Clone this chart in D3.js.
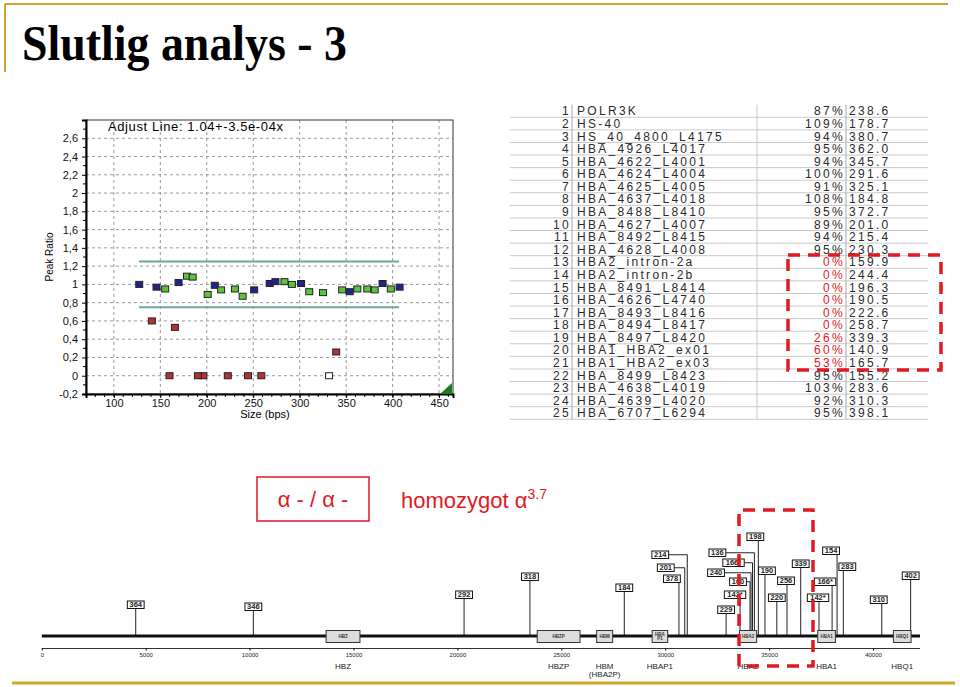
<!DOCTYPE html>
<meta charset="utf-8">
<script src="https://d3js.org/d3.v7.min.js"></script>
<style>
  body { margin: 0; background: #fff; }
  text { font-family: "Liberation Sans", Arial, sans-serif; }
</style>
<body>
<div id="slide"></div>
<script>
// ---- table / probe data (MLPA result) ----
var probeNames = ["POLR3K", "HS-40", "HS_40_4800_L4175", "HBA_4926_L4017", "HBA_4622_L4001",
  "HBA_4624_L4004", "HBA_4625_L4005", "HBA_4637_L4018", "HBA_8488_L8410", "HBA_4627_L4007",
  "HBA_8492_L8415", "HBA_4628_L4008", "HBA2_intron-2a", "HBA2_intron-2b", "HBA_8491_L8414",
  "HBA_4626_L4740", "HBA_8493_L8416", "HBA_8494_L8417", "HBA_8497_L8420", "HBA1_HBA2_ex01",
  "HBA1_HBA2_ex03", "HBA_8499_L8423", "HBA_4638_L4019", "HBA_4639_L4020", "HBA_6707_L6294"];
var probePct = [87, 109, 94, 95, 94, 100, 91, 108, 95, 89, 94, 95, 0, 0, 0, 0, 0, 0, 26, 60, 53, 95, 103, 92, 95];
var probeSize = [238.6, 178.7, 380.7, 362.0, 345.7, 291.6, 325.1, 184.8, 372.7, 201.0, 215.4, 230.3,
  159.9, 244.4, 196.3, 190.5, 222.6, 258.7, 339.3, 140.9, 165.7, 155.2, 283.6, 310.3, 398.1];

// reference probes (blue) and one unused peak (white)
var refSize = [127.3, 145.9, 169.6, 208.6, 251, 267.7, 273.9, 301.5, 353.8, 389.2, 407.5];
var refRatio = [1.00, 0.97, 1.02, 0.99, 0.94, 1.01, 1.03, 1.01, 0.92, 1.01, 0.97];
var otherSize = [331.6];
var otherRatio = [0];

var xTicks = [100, 150, 200, 250, 300, 350, 400, 450];
var yTicks = [-0.2, 0, 0.2, 0.4, 0.6, 0.8, 1, 1.2, 1.4, 1.6, 1.8, 2, 2.2, 2.4, 2.6];
var limits = [0.75, 1.25];
var limitRange = [127, 407];

// ---- gene map data (bp) ----
var geneNames = ["HBZ", "HBZP", "HBM", "HBAP1", "HBA2", "HBA1", "HBQ1"];
var geneBoxText = ["HBZ", "HBZP", "HBM", "HBA|P1", "HBA2", "HBA1", "HBQ1"];
var geneStart = [13680, 23840, 26700, 29370, 33570, 37340, 40980];
var geneEnd = [15310, 25900, 27470, 30120, 34400, 38190, 41830];
var mapTicks = [0, 5000, 10000, 15000, 20000, 25000, 30000, 35000, 40000];

var mapLabels = ["364", "346", "292", "318", "184", "378", "201", "214", "229", "142*", "160", "240",
  "166*", "136", "198", "190", "220", "256", "339", "142*", "166*", "154", "283", "310", "402"];
var mapPos = [4520, 10180, 20320, 23490, 28030, 30660, 30940, 31060, 32930, 33600, 34080, 34130,
  34200, 34290, 34480, 34800, 35370, 35860, 36520, 37400, 38030, 38270, 38570, 40420, 41810];

// label box placement: [dx from stem, top y]
var labelLayout = [[0, 601], [0, 603], [0, 591], [0, 573], [0, 584], [-7, 575], [-19, 564], [-27, 551],
  [0, 606], [-5, 591], [-12, 578], [-35, 569], [-19, 559], [-37, 549], [-3, 533], [2, 567], [0, 594],
  [-1, 577], [0, 560], [-1, 594], [-7, 578], [-6, 547], [4, 563], [-3, 596], [0, 572]];

var W = 960, H = 687;
var red = "#e01a22", gold = "#d4a52a";

var svg = d3.select("#slide").append("svg")
  .attr("width", W).attr("height", H);

// slide decoration
svg.append("line").attr("x1", 5).attr("x2", 948).attr("y1", 4).attr("y2", 4)
  .attr("stroke", gold).attr("stroke-width", 2);
svg.append("line").attr("x1", 5).attr("x2", 5).attr("y1", 4).attr("y2", 72)
  .attr("stroke", gold).attr("stroke-width", 2);
svg.append("line").attr("x1", 12).attr("x2", 955).attr("y1", 683).attr("y2", 683)
  .attr("stroke", gold).attr("stroke-width", 3);

svg.append("text").attr("x", 22).attr("y", 60)
  .style("font-family", "'Liberation Serif', 'Times New Roman', serif")
  .style("font-size", "50px").style("font-weight", "bold")
  .attr("textLength", 325).attr("lengthAdjust", "spacingAndGlyphs")
  .text("Slutlig analys - 3");

// ================= scatter plot =================
var x = d3.scaleLinear().domain([70, 465]).range([86, 453]);
var y = d3.scaleLinear().domain([-0.2, 2.8]).range([394, 120]);
var plot = svg.append("g");

var fmt = function (v) {
  var r = Math.round(v * 10) / 10;
  return Number.isInteger(r) ? String(r) : r.toFixed(1).replace(".", ",");
};

// grid
plot.selectAll(".vg").data(xTicks).enter().append("line")
  .attr("x1", d => x(d)).attr("x2", d => x(d)).attr("y1", y.range()[1]).attr("y2", y.range()[0])
  .attr("stroke", "#999").attr("stroke-dasharray", "3,3");
plot.selectAll(".hg").data(yTicks.slice(1)).enter().append("line")
  .attr("y1", d => y(d)).attr("y2", d => y(d)).attr("x1", x.range()[0]).attr("x2", x.range()[1])
  .attr("stroke", "#999").attr("stroke-dasharray", "3,3");

// frame
plot.append("rect").attr("x", 86).attr("y", 120).attr("width", 367).attr("height", 274)
  .attr("fill", "none").attr("stroke", "#333").attr("stroke-width", 1);

var yAxis = d3.axisLeft(y).tickValues(yTicks).tickFormat(fmt).tickSize(4).tickPadding(4);
var xAxis = d3.axisBottom(x).tickValues(xTicks).tickSize(4).tickPadding(1);
var gy = plot.append("g").attr("transform", "translate(86,0)").call(yAxis);
var gx = plot.append("g").attr("transform", "translate(0,394)").call(xAxis);
[gy, gx].forEach(function (g) {
  g.select(".domain").attr("stroke", "#000").attr("stroke-width", 2);
  g.selectAll("text").style("font-size", "11px").attr("fill", "#111");
});
// minor ticks
plot.selectAll(".mx").data(d3.range(80, 461, 10)).enter().append("line")
  .attr("x1", d => x(d)).attr("x2", d => x(d)).attr("y1", 394).attr("y2", 397).attr("stroke", "#000");
plot.selectAll(".my").data(d3.range(-0.1, 2.8, 0.2)).enter().append("line")
  .attr("y1", d => y(d)).attr("y2", d => y(d)).attr("x1", 83).attr("x2", 86).attr("stroke", "#000");

plot.append("text").attr("x", 265).attr("y", 418).attr("text-anchor", "middle")
  .style("font-size", "11px").text("Size (bps)");
plot.append("text").attr("transform", "translate(53,257) rotate(-90)").attr("text-anchor", "middle")
  .style("font-size", "10px").text("Peak Ratio");
plot.append("text").attr("x", 108).attr("y", 131)
  .style("font-size", "13px").style("letter-spacing", "0.6px").text("Adjust Line: 1.04+-3.5e-04x");

// limit lines
plot.selectAll(".lim").data(limits).enter().append("line")
  .attr("x1", x(limitRange[0])).attr("x2", x(limitRange[1]))
  .attr("y1", d => y(d)).attr("y2", d => y(d))
  .attr("stroke", "#6fa898").attr("stroke-width", 2);

// points
var pts = [];
refSize.forEach((s, i) => pts.push({ s: s, r: refRatio[i], c: "#23238c" }));
otherSize.forEach((s, i) => pts.push({ s: s, r: otherRatio[i], c: "#ffffff" }));
probeSize.forEach((s, i) => {
  var r = probePct[i] / 100;
  pts.push({ s: s, r: r, c: (r < limits[0] || r > limits[1]) ? "#b83232" : "#5cc43c" });
});
plot.selectAll(".pt").data(pts).enter().append("rect")
  .attr("x", d => x(d.s) - 3.5).attr("y", d => y(d.r) - 3)
  .attr("width", 7).attr("height", 6)
  .attr("fill", d => d.c).attr("stroke", "#222").attr("stroke-width", 1);

plot.append("path").attr("d", "M440,394L452,394L452,383Z").attr("fill", "#1d7a1d");

// ================= table =================
var tbl = svg.append("g");
var rowY = d3.scaleLinear().domain([0, 24]).range([111, 413]);
var rowH = 12.58;
tbl.selectAll(".hl").data(d3.range(25)).enter().append("line")
  .attr("x1", 510).attr("x2", 928)
  .attr("y1", d => rowY(d) + rowH / 2).attr("y2", d => rowY(d) + rowH / 2)
  .attr("stroke", "#c8c8c8");
[572, 757, 846].forEach(function (vx) {
  tbl.append("line").attr("x1", vx).attr("x2", vx)
    .attr("y1", rowY(0) - rowH / 2).attr("y2", rowY(24) + rowH / 2)
    .attr("stroke", vx === 757 ? "#c8c8c8" : "#a8a8a8");
});
var rows = tbl.selectAll(".row").data(probeNames).enter().append("g")
  .attr("transform", (d, i) => "translate(0," + (rowY(i) + 4.4) + ")")
  .style("font-size", "12px").style("letter-spacing", "2.3px").attr("fill", "#2a2a2a");
rows.append("text").attr("x", 571).attr("text-anchor", "end").text((d, i) => i + 1);
rows.append("text").attr("x", 577).text(d => d);
rows.append("text").attr("x", 845).attr("text-anchor", "end")
  .attr("fill", (d, i) => probePct[i] < 75 ? red : "#2a2a2a")
  .text((d, i) => probePct[i] + "%");
rows.append("text").attr("x", 849).text((d, i) => probeSize[i].toFixed(1));

tbl.append("rect").attr("x", 788).attr("y", 255).attr("width", 153).attr("height", 115)
  .attr("fill", "none").attr("stroke", red).attr("stroke-width", 3.5).attr("stroke-dasharray", "12,8");

// ================= genotype text =================
svg.append("rect").attr("x", 257).attr("y", 477).attr("width", 112).attr("height", 44)
  .attr("fill", "none").attr("stroke", red).attr("stroke-width", 1.5);
svg.append("text").attr("x", 313).attr("y", 507).attr("text-anchor", "middle")
  .style("font-size", "22px").attr("fill", red).text("α - / α -");
var ht = svg.append("text").attr("x", 401).attr("y", 508)
  .style("font-size", "22px").attr("fill", red);
ht.append("tspan").text("homozygot α");
ht.append("tspan").attr("dy", -9).style("font-size", "14px").text("3.7");

// ================= gene map =================
var gx2 = d3.scaleLinear().domain([0, 42260]).range([41.8, 920]);
var map = svg.append("g");
var lineY = 636;

// probe stems and labels
mapLabels.forEach(function (lab, i) {
  var sx = gx2(mapPos[i]);
  var cx = sx + labelLayout[i][0], ty = labelLayout[i][1];
  var bw = lab.length * 4.6 + 3, bh = 7.5;
  var right = cx + bw / 2;
  if (right < sx - 1) {
    var my = ty + bh / 2;
    map.append("path").attr("d", "M" + right + "," + my + "H" + sx + "V" + lineY)
      .attr("fill", "none").attr("stroke", "#222").attr("stroke-width", 1);
  } else {
    map.append("line").attr("x1", sx).attr("x2", sx).attr("y1", ty + bh).attr("y2", lineY)
      .attr("stroke", "#222").attr("stroke-width", 1);
  }
  map.append("rect").attr("x", cx - bw / 2).attr("y", ty).attr("width", bw).attr("height", bh)
    .attr("fill", "#fff").attr("stroke", "#111").attr("stroke-width", 1);
  map.append("text").attr("x", cx).attr("y", ty + 6.3).attr("text-anchor", "middle")
    .style("font-size", "7.5px").style("font-weight", "bold").attr("fill", "#222").text(lab);
});

map.append("line").attr("x1", gx2(0)).attr("x2", 920).attr("y1", lineY).attr("y2", lineY)
  .attr("stroke", "#111").attr("stroke-width", 3);

var boxes = map.selectAll(".gb").data(geneNames).enter().append("g");
boxes.append("rect")
  .attr("x", (d, i) => gx2(geneStart[i])).attr("y", 630.5)
  .attr("width", (d, i) => gx2(geneEnd[i]) - gx2(geneStart[i])).attr("height", 12)
  .attr("fill", "#dcdcdc").attr("stroke", "#333").attr("stroke-width", 1);
boxes.each(function (d, i) {
  var parts = geneBoxText[i].split("|");
  var cx = (gx2(geneStart[i]) + gx2(geneEnd[i])) / 2;
  parts.forEach(function (p, k) {
    d3.select(this).append("text").attr("x", cx)
      .attr("y", 638.2 + (k - (parts.length - 1) / 2) * 4.5)
      .attr("text-anchor", "middle").style("font-size", "4.5px").style("font-weight", "bold")
      .attr("fill", "#333").text(p);
  }, this);
  d3.select(this).append("text").attr("x", cx).attr("y", 669).attr("text-anchor", "middle")
    .style("font-size", "8px").attr("fill", "#222").text(d);
});
map.append("text").attr("x", (gx2(geneStart[2]) + gx2(geneEnd[2])) / 2).attr("y", 677)
  .attr("text-anchor", "middle").style("font-size", "8px").attr("fill", "#222").text("(HBA2P)");

var mAxis = d3.axisBottom(gx2).tickValues(mapTicks).tickFormat(d3.format("d"))
  .tickSize(2).tickPadding(2);
var gm = map.append("g").attr("transform", "translate(0,648.5)").call(mAxis);
gm.select(".domain").attr("d", "M" + gx2(0) + ",0H920").attr("stroke", "#333");
gm.selectAll("text").style("font-size", "6px").attr("fill", "#222");

// red dashed frame around HBA2 region
map.append("path").attr("d", "M739,666V510H813V666H739")
  .attr("fill", "none").attr("stroke", red).attr("stroke-width", 3.5).attr("stroke-dasharray", "12,8");
</script>
</body>
